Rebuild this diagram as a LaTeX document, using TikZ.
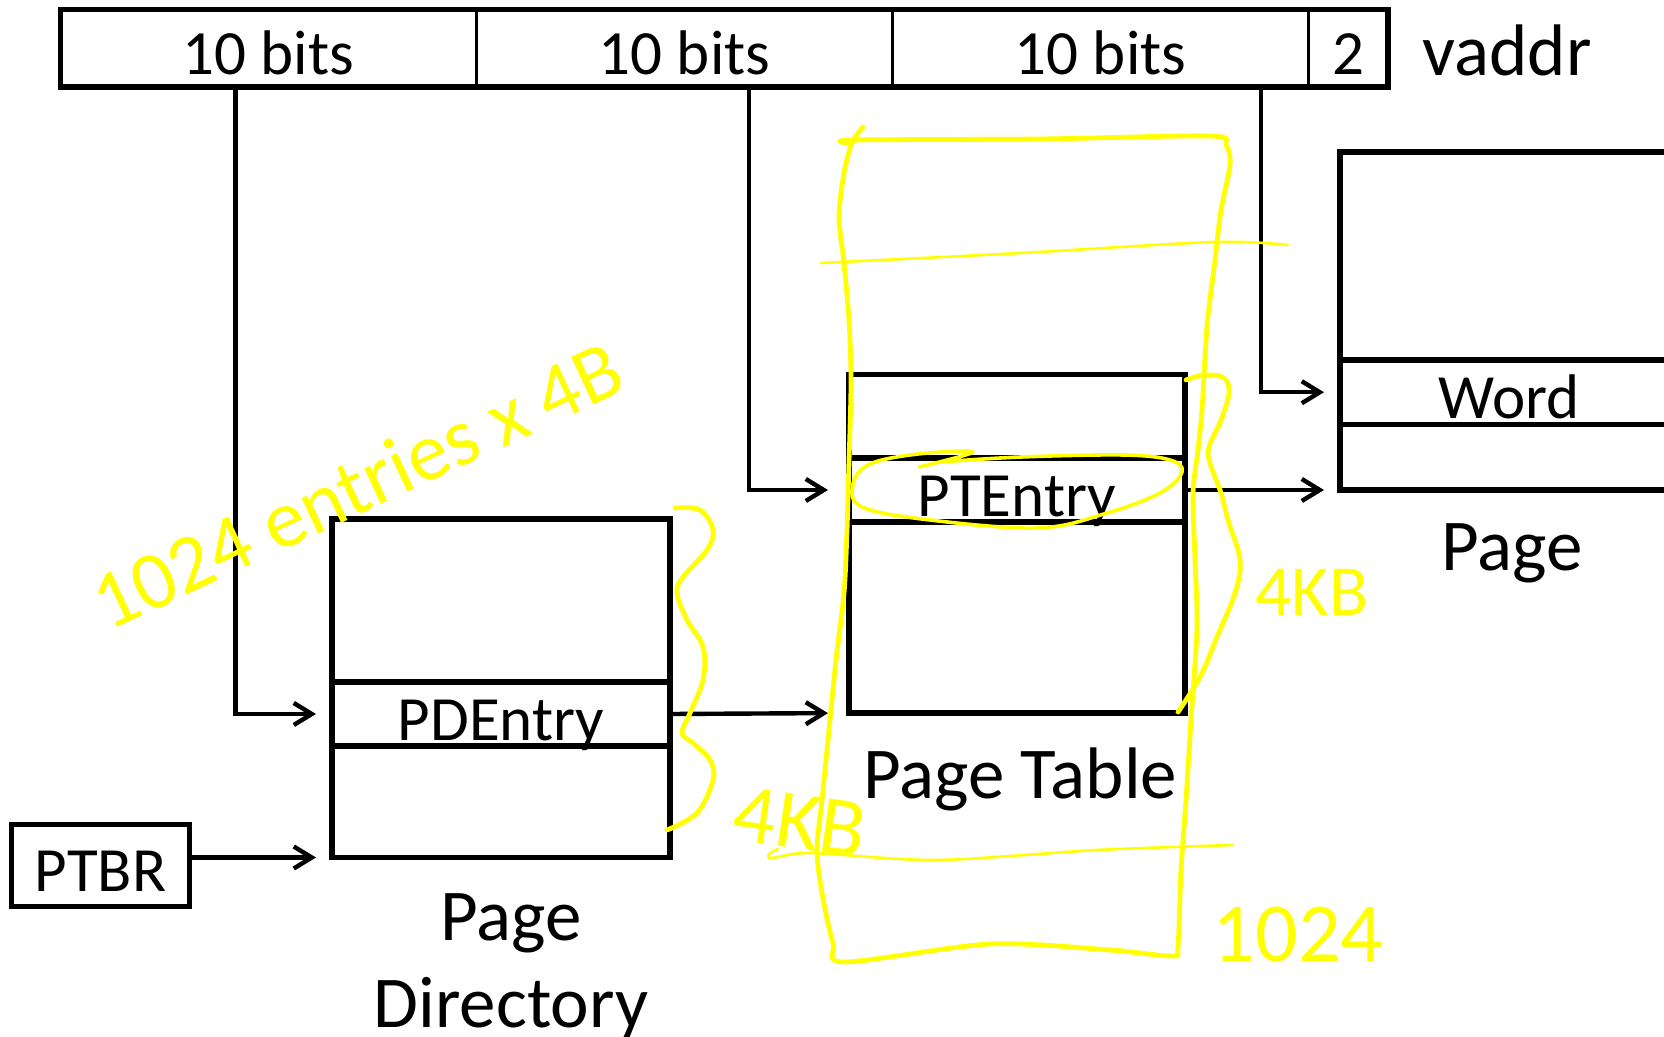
\documentclass[tikz,border=0pt]{standalone}
\usepackage{fontspec}
\setmainfont{Carlito}
\usepackage{tikz}
\usetikzlibrary{arrows.meta}

\definecolor{hlyellow}{RGB}{255,255,0}

\tikzset{
    field/.style={rectangle, draw, line width=1.6pt, outer sep=0pt, inner sep=0pt,
        minimum width=208pt, minimum height=38.75pt, text height=26pt, text depth=0pt,
        font=\fontsize{31.5}{38}\selectfont},
    cell/.style={rectangle, draw, line width=2.7pt, outer sep=0pt, inner sep=0pt,
        minimum width=169pt, text height=26pt, text depth=0pt,
        font=\fontsize{31.5}{38}\selectfont},
    boxlabel/.style={inner sep=0pt, anchor=base, font=\fontsize{36.5}{43.5}\selectfont},
    arr/.style={line width=2.2pt, -{Straight Barb[length=9pt, width=11pt]}},
    ink/.style={draw=hlyellow, line width=2.4pt, line cap=round, line join=round},
    thinink/.style={ink, line width=1.3pt},
    inktext/.style={text=hlyellow, inner sep=0pt}
}

\begin{document}
\begin{tikzpicture}[x=0.5pt, y=-0.5pt]
    \useasboundingbox (0,0) rectangle (1664,1037);

    % Draw address fields
    \node[field] (f1) at (268.5,48.25) {10 bits};
    \node[field] (f2) at (684.5,48.25) {10 bits};
    \node[field] (f3) at (1100.5,48.25) {10 bits};
    \node[field, minimum width=39.75pt] (f4) at (1348.25,48.25) {2};
    \draw[line width=2.8pt] (f1.north west) rectangle (f4.south east);
    \node[boxlabel] (vaddr) at (1507,76) {vaddr};

    % Draw page directory
    \node[cell, minimum height=81.5pt] (pdtop) at (501,600.5) {};
    \node[cell, minimum height=32pt] (pde) at (501,714) {PDEntry};
    \node[cell, minimum height=55.75pt] (pdbot) at (501,801.75) {};
    \node[boxlabel, anchor=north, align=center] (pdlabel) at (511,893) {Page\\Directory};

    % Draw page table
    \node[cell, minimum width=168pt, minimum height=41.7pt] (pttop) at (1017,416.3) {};
    \node[cell, minimum width=168pt, minimum height=32pt] (pte) at (1017,490) {PTEntry};
    \node[cell, minimum width=168pt, minimum height=95.5pt] (ptbot) at (1017,617.5) {};
    \node[boxlabel] (ptlabel) at (1020,798) {Page Table};

    % Draw page
    \node[cell, minimum height=104pt] (pgtop) at (1509,256) {};
    \node[cell, minimum height=32.25pt] (word) at (1509,392.25) {Word};
    \node[cell, minimum height=32.75pt] (pgbot) at (1509,457.25) {};
    \node[boxlabel] (pglabel) at (1512,570) {Page};

    % Draw register
    \node[cell, minimum width=89pt, minimum height=41pt] (ptbr) at (100.5,865.5) {PTBR};

    % Draw connections
    \coordinate (s1) at (235.6,87);
    \coordinate (s2) at (749,87);
    \coordinate (s3) at (1260.7,87);
    \draw[arr, shorten >=8pt] (s1) |- (pde.west);
    \draw[arr, shorten >=10.5pt] (s2) |- (pte.west);
    \draw[arr, shorten >=8pt] (s3) |- (word.west);
    \draw[arr, shorten >=8pt] (ptbr.east |- pdbot.south west) -- (pdbot.south west);
    \draw[arr, shorten >=10.5pt] (pde.east) -- (ptbot.south west);
    \draw[arr, shorten >=8pt] (pte.east) -- (pgbot.south west);

    % Yellow notes
    \draw[ink] plot[smooth, tension=0.5] coordinates {(863,127) (852,143) (844,173) (839,217)
        (844,263) (849,320) (851,377) (850,430) (849,460) (847,530) (844,593) (836,660)
        (830,720) (822,800) (817,850) (822,893) (833,943) (845,962) (990,944) (1110,950)
        (1172,956) (1178,946) (1181,870) (1186,800) (1191,720) (1197,627) (1195,560)
        (1193,493) (1198,450) (1202,410) (1207,327) (1215,260) (1221,210) (1230,165)
        (1226,145) (1210,136) (1040,139) (854,140) (847,143)};
    \draw[thinink] plot[smooth] coordinates {(821,263) (1021,253) (1214,242) (1288,245)};
    \draw[thinink] plot[smooth] coordinates {(778,849) (769,854) (772,858) (811,853)
        (936,860) (1097,850) (1233,845)};
    \draw[ink, line width=1.8pt] plot[smooth, tension=0.6] coordinates {(919,467) (973,452)
        (918,454) (870,464) (853,484) (862,507) (930,520) (1038,528) (1104,514) (1160,493)
        (1182,472) (1170,460) (1124,455) (1021,457) (940,462)};
    \draw[ink] plot[smooth, tension=0.6] coordinates {(675,508) (700,510) (713,530) (707,550)
        (683,577) (677,593) (687,620) (703,647) (703,680) (690,713) (682,733) (693,743)
        (710,760) (713,780) (697,813) (667,830)};
    \draw[ink] plot[smooth, tension=0.6] coordinates {(1186,380) (1204,375) (1224,378)
        (1229,393) (1221,420) (1209,447) (1210,463) (1221,493) (1228,520) (1240,560)
        (1235,593) (1217,637) (1200,677) (1178,712)};

    \node[inktext, rotate=25, font=\fontsize{41}{41}\selectfont] (n1) at (357,485) {1024 entries x 4B};
    \node[inktext, rotate=-8, font=\fontsize{42}{42}\selectfont] (n2) at (800,822) {4KB};
    \node[inktext, font=\fontsize{36}{36}\selectfont] (n3) at (1312,592) {4KB};
    \node[inktext, font=\fontsize{42}{42}\selectfont] (n4) at (1298,935) {1024};
\end{tikzpicture}
\end{document}
